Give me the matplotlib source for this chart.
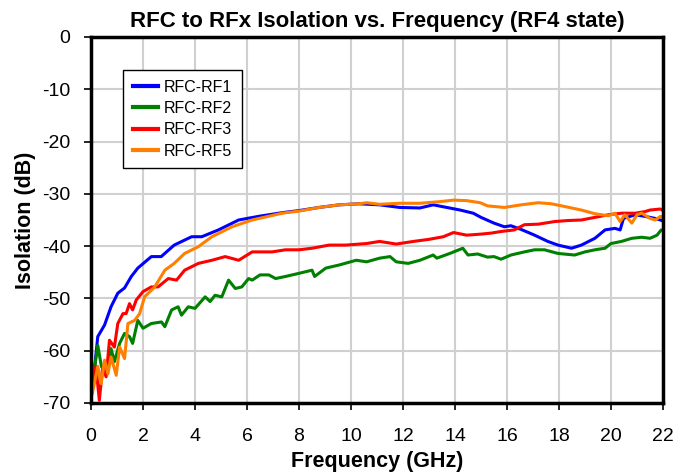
import matplotlib
matplotlib.use("Agg")
import matplotlib.pyplot as plt

plt.rcParams['font.family'] = ['Liberation Sans', 'DejaVu Sans']
plt.rcParams['axes.unicode_minus'] = False

rf1_f = [0.05, 0.26, 0.52, 0.77, 1.03, 1.29, 1.55, 1.8, 2.32, 2.7, 3.2, 3.87, 4.26, 4.9, 5.68, 6.45, 7.35,
         8.0, 8.77, 9.55, 10.3, 11.1, 11.87, 12.65, 13.16, 13.68, 14.2, 14.7, 15.0, 15.5, 15.9, 16.15, 16.54,
         17.06, 17.57, 17.96, 18.48, 18.86, 19.38, 19.77, 20.15, 20.35, 20.48, 20.93, 21.3, 21.7, 21.9, 22.0]
rf1_db = [-67.6, -57.3, -55.1, -51.6, -49.0, -48.0, -45.8, -44.2, -42.0, -42.0, -39.8, -38.2, -38.2, -36.9, -35.0, -34.3, -33.6,
          -33.2, -32.6, -32.1, -31.9, -32.1, -32.6, -32.7, -32.1, -32.6, -33.1, -33.7, -34.5, -35.6, -36.3, -36.1, -36.8,
          -37.9, -39.1, -39.8, -40.4, -39.8, -38.5, -36.9, -36.6, -36.9, -34.7, -34.0, -34.3, -34.7, -35.0, -35.2]

rf2_f = [0.05, 0.26, 0.4, 0.58, 0.77, 0.9, 1.1, 1.29, 1.48, 1.6, 1.8, 2.0, 2.32, 2.71, 2.84, 3.1, 3.35, 3.48, 3.74, 4.0,
         4.39, 4.58, 4.77, 5.03, 5.29, 5.55, 5.8, 6.06, 6.2, 6.5, 6.84, 7.1, 7.48, 8.0, 8.5, 8.6, 9.03, 9.55, 10.2, 10.6,
         11.1, 11.5, 11.74, 12.2, 12.65, 13.16, 13.3, 13.8, 14.3, 14.5, 14.87, 15.25, 15.5, 15.77, 16.15, 16.67, 17.06,
         17.44, 17.96, 18.6, 19.0, 19.38, 19.77, 20.0, 20.4, 20.8, 21.18, 21.5, 21.77, 21.93, 22.0]
rf2_db = [-66.3, -59.0, -63.0, -64.4, -59.6, -62.1, -58.6, -56.7, -57.3, -58.6, -54.2, -55.7, -54.8, -54.5, -55.4, -52.2,
          -51.6, -53.2, -51.6, -51.9, -49.7, -50.6, -49.4, -49.7, -46.5, -48.1, -47.8, -46.2, -46.5, -45.5, -45.5, -46.2,
          -45.8, -45.2, -44.6, -45.8, -44.2, -43.6, -42.7, -43.0, -42.3, -42.0, -43.0, -43.3, -42.7, -41.7, -42.3, -41.4,
          -40.4, -41.7, -41.5, -42.1, -42.0, -42.5, -41.7, -41.1, -40.7, -40.7, -41.4, -41.7, -41.1, -40.7, -40.4, -39.5,
          -39.1, -38.5, -38.3, -38.5, -37.9, -36.9, -37.0]

rf3_f = [0.05, 0.19, 0.32, 0.45, 0.58, 0.71, 0.9, 1.03, 1.23, 1.35, 1.48, 1.6, 1.74, 2.0, 2.32, 2.58, 2.97, 3.29, 3.6,
         4.13, 4.65, 5.16, 5.68, 6.2, 6.97, 7.48, 8.0, 8.5, 9.16, 9.8, 10.6, 11.1, 11.74, 12.4, 13.0, 13.55, 13.94,
         14.45, 15.0, 15.4, 15.77, 16.28, 16.67, 17.2, 17.83, 18.35, 18.86, 19.38, 19.9, 20.4, 20.93, 21.3, 21.5, 21.9, 22.0]
rf3_db = [-67.0, -63.0, -69.5, -63.0, -65.0, -58.0, -59.3, -54.8, -52.9, -52.9, -51.0, -52.2, -50.3, -48.7, -47.8, -47.8,
          -46.2, -46.5, -44.6, -43.3, -42.7, -42.0, -42.7, -41.1, -41.1, -40.7, -40.7, -40.4, -39.8, -39.8, -39.5, -39.1,
          -39.6, -39.1, -38.7, -38.2, -37.4, -37.9, -37.7, -37.5, -37.2, -36.9, -35.9, -35.8, -35.3, -35.1, -35.0, -34.5,
          -34.0, -33.7, -33.7, -33.4, -33.1, -32.9, -33.2]

rf5_f = [0.05, 0.26, 0.39, 0.52, 0.65, 0.77, 0.97, 1.1, 1.29, 1.42, 1.68, 1.87, 2.06, 2.45, 2.84, 3.2, 3.6, 4.13, 4.65,
         5.42, 6.2, 7.35, 8.0, 8.77, 9.55, 10.3, 10.6, 11.1, 11.87, 12.65, 13.4, 13.94, 14.45, 14.97, 15.25, 15.9,
         16.54, 17.2, 17.7, 18.2, 18.86, 19.38, 19.9, 20.15, 20.35, 20.53, 20.8, 21.0, 21.18, 21.5, 21.7, 21.9, 22.0]
rf5_db = [-68.2, -63.0, -66.3, -61.8, -64.4, -61.2, -64.7, -59.3, -61.5, -54.8, -54.2, -52.9, -49.7, -47.8, -44.6, -43.3,
          -41.4, -40.1, -38.2, -36.3, -35.0, -33.7, -33.3, -32.6, -32.1, -31.9, -31.7, -32.0, -31.8, -31.8, -31.5, -31.2,
          -31.3, -31.7, -32.3, -32.6, -32.1, -31.7, -31.9, -32.4, -33.1, -33.8, -34.2, -33.7, -35.3, -34.0, -35.6, -34.0,
          -33.7, -34.7, -35.0, -34.3, -34.5]

series = [("RFC-RF1", rf1_f, rf1_db, "#0000ff"),
          ("RFC-RF2", rf2_f, rf2_db, "#008000"),
          ("RFC-RF3", rf3_f, rf3_db, "#ff0000"),
          ("RFC-RF5", rf5_f, rf5_db, "#ff7f00")]

fig = plt.figure(figsize=(6.9, 4.73), dpi=100)
ax = fig.add_axes([0.1319, 0.148, 0.829, 0.7738])

for name, f, db, c in series:
    ax.plot(f, db, color=c, lw=2.2, label=name)

ax.set_xlim(0, 22)
ax.set_ylim(-70, 0)
ax.set_xticks(range(0, 23, 2))
ax.set_yticks(range(-70, 1, 10))
ax.grid(True, color="#d0d0d0", lw=1.5)
ax.set_axisbelow(True)
for s in ax.spines.values():
    s.set_linewidth(2.5)
    s.set_color("black")
ax.tick_params(axis='both', labelsize=14, direction='out', length=5, width=1.2)
ax.tick_params(axis='x', pad=13)
ax.tick_params(axis='y', pad=10)

ax.set_xlabel("Frequency (GHz)", fontsize=15.5, fontweight='bold', labelpad=4)
ax.set_ylabel("Isolation (dB)", fontsize=15.5, fontweight='bold', labelpad=4)
ax.set_title("RFC to RFx Isolation vs. Frequency (RF4 state)", fontsize=16, fontweight='bold', pad=7)

leg = ax.legend(loc='upper left', bbox_to_anchor=(0.056, 0.91), fontsize=11.5, frameon=True, fancybox=False,
                edgecolor='black', framealpha=1, borderpad=0.6, handlelength=1.6, handletextpad=0.35,
                labelspacing=0.4, borderaxespad=0)
leg.get_frame().set_linewidth(1.0)
for h in leg.get_lines():
    h.set_linewidth(3)

fig.savefig("out.png", dpi=100)
